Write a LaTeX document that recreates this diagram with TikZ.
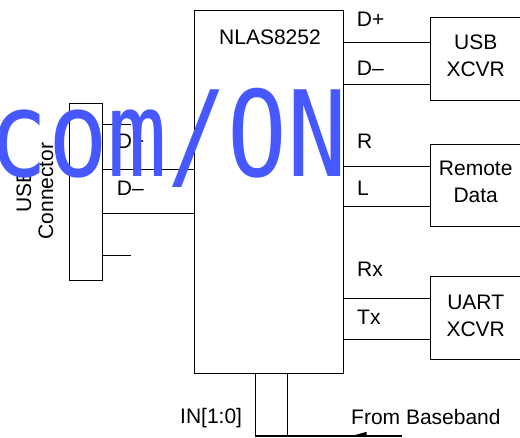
\documentclass[tikz,border=0pt]{standalone}
\usepackage{fontspec}
\setmainfont{Liberation Sans}
\newfontfamily\wmfont{DejaVu Sans Mono}
\usetikzlibrary{calc}
\definecolor{wm}{RGB}{70,88,255}
\begin{document}
\begin{tikzpicture}[x=1pt,y=-1pt,
  box/.style={draw, line width=0.9pt, inner sep=0pt, rectangle},
  wire/.style={line width=0.9pt},
  bus/.style={line width=1.8pt},
  lbl/.style={anchor=base west, inner sep=0pt, font=\fontsize{21}{27.5}\selectfont},
  blk/.style={anchor=center, inner sep=0pt, align=center, font=\fontsize{21}{27.5}\selectfont}]
\useasboundingbox (0,0) rectangle (520,438);
% boxes
\node[box, minimum width=148.6pt, minimum height=363.3pt] (main) at (269,191.65) {};
\node[box, minimum width=91.3pt, minimum height=83.4pt] (usbx) at (476.35,59) {};
\node[box, minimum width=92pt, minimum height=82.7pt] (remote) at (476,185.35) {};
\node[box, minimum width=91.3pt, minimum height=82.6pt] (uart) at (476.35,318) {};
\node[box, minimum width=33.4pt, minimum height=176.7pt] (conn) at (86,191.65) {};
% box texts
\node[lbl] (title) at (219,44.3) {NLAS8252};
\node[blk] (tusbx) at (475.7,56) {USB\\XCVR};
\node[blk] (tremote) at (475.7,182) {Remote\\Data};
\node[blk] (tuart) at (475.7,316) {UART\\XCVR};
\node[blk, rotate=90, font=\fontsize{21}{22}\selectfont] (tconn) at (35,191) {USB\\Connector};
% helper coordinates
\coordinate (y1) at (0,42.7);
\coordinate (y2) at (0,84);
\coordinate (y3) at (0,166.7);
\coordinate (y4) at (0,206.7);
\coordinate (y5) at (0,298.7);
\coordinate (y6) at (0,339.3);
\coordinate (y7) at (0,169);
\coordinate (y8) at (0,213.3);
\coordinate (s1) at (131,124.3);
\coordinate (s2) at (131,255.7);
\coordinate (b1) at (255,436);
\coordinate (b2) at (287.3,436);
\coordinate (bend) at (401.7,436);
% wires
\draw[wire] (main.east |- y1) -- (usbx.west |- y1);
\draw[wire] (main.east |- y2) -- (usbx.west |- y2);
\draw[wire] (main.east |- y3) -- (remote.west |- y3);
\draw[wire] (main.east |- y4) -- (remote.west |- y4);
\draw[wire] (main.east |- y5) -- (uart.west |- y5);
\draw[wire] (main.east |- y6) -- (uart.west |- y6);
\draw[wire] (conn.east |- y7) -- (main.west |- y7);
\draw[wire] (conn.east |- y8) -- (main.west |- y8);
\draw[wire] (conn.east |- s1) -- (s1);
\draw[wire] (conn.east |- s2) -- (s2);
\draw[wire] (main.south -| b1) -- (b1);
\draw[wire] (main.south -| b2) -- (b2);
\draw[bus] (bend) -- (b1);
\fill (350,436.5) -- (366.7,431.8) -- (366.7,436.5) -- cycle;
% pin labels
\node[lbl] (dp) at (356.7,26.7) {D+};
\node[lbl] (dm) at (356.7,75.3) {D–};
\node[lbl] (r) at (357,148.3) {R};
\node[lbl] (l) at (357,196) {L};
\node[lbl] (rx) at (357,276.7) {Rx};
\node[lbl] (tx) at (357,325) {Tx};
\node[lbl] (ldp) at (116.7,148.3) {D+};
\node[lbl] (ldm) at (116.7,196) {D–};
\node[lbl] (in) at (180,423.5) {IN[1:0]};
\node[lbl] (bb) at (351,424.3) {From Baseband};
% watermark
\begin{scope}
\clip (0,0) rectangle (343.3,438);
\node[anchor=base west, inner sep=0pt, text=wm] (wmk) at (-12,176.7)
  {\scalebox{0.835}[1]{\fontsize{119}{119}\wmfont com/ON}};
\end{scope}
\end{tikzpicture}
\end{document}
